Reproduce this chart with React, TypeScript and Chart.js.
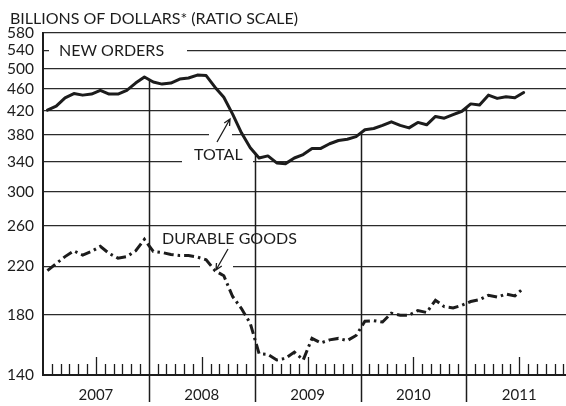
import React, { useEffect, useRef } from 'react';
import { Chart, registerables } from 'chart.js';

Chart.register(...registerables);

// Monthly values, Jan 2007 .. Jul 2011 (billions of dollars)
const TOTAL_ORDERS = [
  421, 428, 443, 451, 448, 450, 457, 450, 450, 457, 471, 483,
  473, 469, 471, 479, 481, 487, 486, 463, 444, 414, 383, 360,
  345, 348, 338, 337, 345, 350, 359, 359, 366, 371, 373, 377,
  388, 390, 395, 401, 395, 391, 400, 396, 410, 407, 413, 419,
  432, 430, 448, 442, 445, 443, 453,
];
const DURABLE_ORDERS = [
  216, 222.5, 229, 234.5, 230.5, 234, 239, 232, 227.5, 229, 234.5, 246,
  234, 233, 231, 230, 230, 228.5, 226, 216, 211.5, 194, 184.5, 173.5,
  153, 152.5, 149, 150, 154, 149, 163, 160, 162, 163, 161.5, 165,
  175, 175.5, 174.5, 181, 179.5, 179.5, 183, 181.5, 191, 186, 185, 187,
  190, 191.5, 195, 193.5, 196, 194.5, 201,
];
const Y_TICKS = [140, 180, 220, 260, 300, 340, 380, 420, 460, 500, 540, 580];
const YEARS = ['2007', '2008', '2009', '2010', '2011'];
const YEAR_LABEL_MONTHS = [6, 18, 30, 42, 54];
const YEAR_BOUNDARIES = [12, 24, 36, 48];
const TITLE = 'BILLIONS OF DOLLARS* (RATIO SCALE)';
const LABEL_NEW_ORDERS = 'NEW ORDERS';
const LABEL_TOTAL = 'TOTAL';
const LABEL_DURABLE = 'DURABLE GOODS';

const X_MAX = 59.3;
const FONT = 'Lato, "Noto Sans", sans-serif';
const INK = '#1c1c1c';

function arrow(ctx: CanvasRenderingContext2D, x1: number, y1: number, x2: number, y2: number) {
  ctx.beginPath();
  ctx.moveTo(x1, y1);
  ctx.lineTo(x2, y2);
  const a = Math.atan2(y1 - y2, x1 - x2);
  const len = 7;
  const spread = 0.45;
  ctx.moveTo(x2 + len * Math.cos(a + spread), y2 + len * Math.sin(a + spread));
  ctx.lineTo(x2, y2);
  ctx.lineTo(x2 + len * Math.cos(a - spread), y2 + len * Math.sin(a - spread));
  ctx.stroke();
}

const decorations = {
  id: 'decorations',
  beforeDatasetsDraw(chart: any) {
    const { ctx, chartArea } = chart;
    const xs = chart.scales.x;
    const ys = chart.scales.y;
    ctx.save();

    // white knock-outs behind labels
    ctx.fillStyle = '#ffffff';
    ctx.fillRect(49, 44, 138, 13);
    ctx.fillRect(182, 144, 71, 22);
    ctx.fillRect(209, 130, 23, 11);
    ctx.fillRect(157, 229, 146, 23);
    ctx.fillRect(200, 261, 33, 12);

    // monthly tick marks rising from the base line
    ctx.strokeStyle = INK;
    ctx.lineWidth = 1.3;
    ctx.beginPath();
    for (let m = 1; m < 60; m++) {
      if (m % 12 === 0) continue;
      const px = Math.round(xs.getPixelForValue(m)) + 0.5;
      if (px > chartArea.right) break;
      const h = m % 12 === 6 ? 18 : 11;
      ctx.moveTo(px, chartArea.bottom);
      ctx.lineTo(px, chartArea.bottom - h);
    }
    ctx.stroke();

    // year separators, from the total line down below the axis
    ctx.lineWidth = 1.5;
    ctx.beginPath();
    for (const m of YEAR_BOUNDARIES) {
      const v = Math.sqrt(TOTAL_ORDERS[m - 1] * TOTAL_ORDERS[m]);
      const px = Math.round(xs.getPixelForValue(m)) + 0.5;
      ctx.moveTo(px, ys.getPixelForValue(v));
      ctx.lineTo(px, chart.height - 4);
    }
    ctx.stroke();

    // labels
    ctx.fillStyle = INK;
    ctx.textBaseline = 'alphabetic';
    ctx.textAlign = 'left';
    ctx.font = `16px ${FONT}`;
    ctx.fillText(LABEL_NEW_ORDERS, 59, 56);
    ctx.fillText(LABEL_TOTAL, 194, 160);
    ctx.fillText(LABEL_DURABLE, 162, 243.5);

    ctx.lineWidth = 1.3;
    arrow(ctx, 217, 142, 230, 119);
    arrow(ctx, 228, 249, 216, 270);

    // title
    ctx.font = `16px ${FONT}`;
    ctx.fillText(TITLE, 10, 23.5);
    ctx.restore();
  },
};

export default function App() {
  const ref = useRef<HTMLCanvasElement>(null);

  useEffect(() => {
    const canvas = ref.current;
    if (!canvas) return;
    const chart = new Chart(canvas, {
      type: 'line',
      data: {
        datasets: [
          {
            label: 'Total',
            data: TOTAL_ORDERS.map((v, i) => ({ x: i + 0.5, y: v })),
            borderColor: INK,
            borderWidth: 3,
            pointRadius: 0,
            tension: 0,
            borderJoinStyle: 'round',
            borderCapStyle: 'round',
          },
          {
            label: 'Durable goods',
            data: DURABLE_ORDERS.map((v, i) => ({ x: i + 0.5, y: v })),
            borderColor: INK,
            borderWidth: 3,
            borderDash: [10, 4, 2.5, 4],
            pointRadius: 0,
            tension: 0,
            borderCapStyle: 'butt',
          },
        ],
      },
      options: {
        animation: false,
        responsive: false,
        devicePixelRatio: 1,
        layout: { padding: { top: 33, left: 0, right: 0, bottom: 0 } },
        plugins: {
          legend: { display: false },
          tooltip: { enabled: false },
          title: { display: false },
        },
        scales: {
          x: {
            type: 'linear',
            min: 0,
            max: X_MAX,
            afterBuildTicks: (s: any) => {
              s.ticks = YEAR_LABEL_MONTHS.map((v) => ({ value: v }));
            },
            afterFit: (s: any) => {
              s.height = 31;
            },
            grid: { display: false, drawTicks: false },
            border: { display: true, color: INK, width: 2 },
            ticks: {
              autoSkip: false,
              maxRotation: 0,
              padding: 11,
              color: INK,
              font: { family: FONT, size: 15 },
              callback: (v: any) => YEARS[Math.round((Number(v) - 6) / 12)] ?? '',
            },
          },
          y: {
            type: 'logarithmic',
            min: 140,
            max: 580,
            afterBuildTicks: (s: any) => {
              s.ticks = Y_TICKS.map((v) => ({ value: v }));
            },
            afterFit: (s: any) => {
              s.width = 43;
            },
            grid: { color: '#2b2b2b', lineWidth: 1.2, drawTicks: false },
            border: { display: true, color: INK, width: 2 },
            ticks: {
              autoSkip: false,
              padding: 9,
              color: INK,
              font: { family: FONT, size: 15.5 },
              callback: (v: any) => String(v),
            },
          },
        },
      },
      plugins: [decorations],
    } as any);
    return () => chart.destroy();
  }, []);

  return (
    <div style={{ position: 'absolute', left: 0, top: 0, width: 566, height: 406, background: '#fff' }}>
      <canvas ref={ref} width={566} height={406} style={{ display: 'block' }} />
    </div>
  );
}
